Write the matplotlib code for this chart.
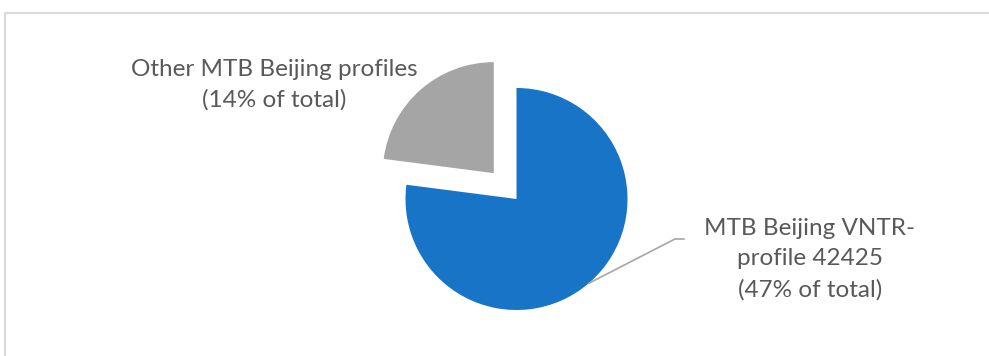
import numpy as np
import matplotlib.pyplot as plt

# chart data
labels = ["MTB Beijing VNTR-\nprofile 42425\n(47% of total)",
          "Other MTB Beijing profiles\n(14% of total)"]
values = [47, 14]
colors = ["#1874C7", "#A5A5A5"]
explode = [0, 0.31]  # fraction of the radius

W, H = 989, 356
fig = plt.figure(figsize=(W / 100, H / 100), dpi=100)
ax = fig.add_axes([0, 0, 1, 1])

cx, cy, r = 516.5, H - 199, 111
# matplotlib's explode is in data units, so scale it by the radius
wedges, _ = ax.pie(values, colors=colors, startangle=90, counterclock=False,
                   explode=[e * r for e in explode], center=(cx, cy), radius=r,
                   wedgeprops=dict(linewidth=0))

# pie() resets the limits, so set them afterwards
ax.set_xlim(0, W)
ax.set_ylim(0, H)
ax.set_aspect("equal")
ax.axis("off")

# chart frame (right / bottom edges are cropped off)
ax.plot([4.5, 4.5, W], [0, H - 12.5, H - 12.5], color="#D9D9D9", lw=1.5,
        solid_capstyle="butt")

txt = dict(fontsize=17.5, color="#595959", family="Lato", ha="center",
           va="center", linespacing=1.55)
ax.text(274, H - 85, labels[1], **txt)
ax.text(810, H - 259, labels[0], **txt)

# leader line from the blue slice to its label
ang = np.deg2rad(-49.4)
px, py = cx + r * np.cos(ang), cy + r * np.sin(ang)
ax.plot([px, 675, 684], [py, H - 239, H - 239], color="#A6A6A6", lw=1.2)

fig.savefig("out.png", dpi=100)
